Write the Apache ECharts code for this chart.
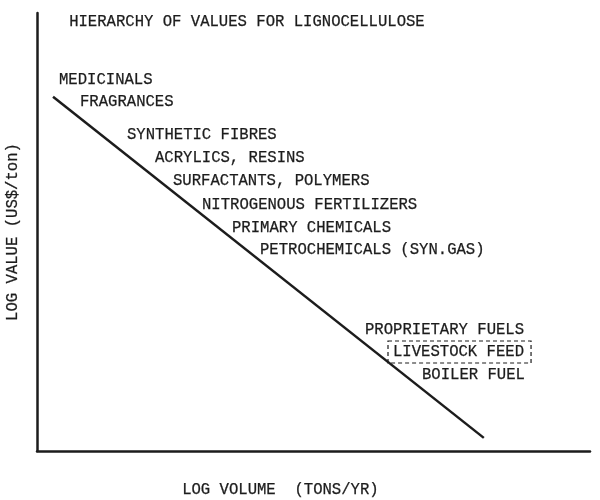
<!DOCTYPE html>
<html>
<head>
<meta charset="utf-8">
<script src="https://cdn.jsdelivr.net/npm/echarts@6/dist/echarts.min.js"></script>
<style>html,body{margin:0;padding:0;background:#fff}#c{width:600px;height:500px}</style>
</head>
<body>
<div id="c"></div>
<script>
// Data
var title = 'HIERARCHY OF VALUES FOR LIGNOCELLULOSE';
var xTitle = 'LOG VOLUME  (TONS/YR)';
var yTitle = 'LOG VALUE (US$/ton)';
var trendX = [2.9, 80.8];   // log volume (relative units)
var trendY = [80.9, 3.0];   // log value (relative units)
var categories = [
  'MEDICINALS', 'FRAGRANCES', 'SYNTHETIC FIBRES', 'ACRYLICS, RESINS',
  'SURFACTANTS, POLYMERS', 'NITROGENOUS FERTILIZERS', 'PRIMARY CHEMICALS',
  'PETROCHEMICALS (SYN.GAS)', 'PROPRIETARY FUELS', 'LIVESTOCK FEED', 'BOILER FUEL'
];
var boxed = ['LIVESTOCK FEED'];

// Layout (pixels) for annotation labels
var labelPos = [
  [59, 80], [80, 102], [127, 135], [155, 158], [173, 181], [202, 205],
  [232, 228], [260, 250], [365, 330], [393, 352], [422, 375]
];

var FONT = '"Liberation Mono", "DejaVu Sans Mono", monospace';
var FS = 15.6;
var INK = '#1c1c1c';
var SW = 0.25;

var chart = echarts.init(document.getElementById('c'), null, {renderer: 'canvas'});

function txtStyle(t, extra) {
  var s = {text: t, font: 'normal ' + FS + 'px ' + FONT, fill: INK, stroke: INK, lineWidth: SW};
  for (var k in extra) s[k] = extra[k];
  return s;
}

var graphics = [
  {type: 'text', left: 69, top: 14, style: txtStyle(title, {})},
  {type: 'text', left: 182, top: 482, style: txtStyle(xTitle, {})}
];
categories.forEach(function (c, i) {
  graphics.push({type: 'text', x: labelPos[i][0], y: labelPos[i][1],
    style: txtStyle(c, {verticalAlign: 'middle', align: 'left'})});
  if (boxed.indexOf(c) >= 0) {
    var w = c.length * FS * 0.6;
    graphics.push({type: 'rect', shape: {x: labelPos[i][0] - 5, y: labelPos[i][1] - 11, width: w + 12, height: 22},
      style: {fill: 'none', stroke: INK, lineWidth: 1.2, lineDash: [4, 3]}});
  }
});

chart.setOption({
  animation: false,
  backgroundColor: '#fff',
  grid: {left: 37, right: 10, top: 13, bottom: 49, containLabel: false, outerBoundsMode: 'none'},
  xAxis: {
    type: 'value', min: 0, max: 100,
    axisLine: {show: true, onZero: false, lineStyle: {color: INK, width: 2.5}},
    axisTick: {show: false}, axisLabel: {show: false}, splitLine: {show: false}
  },
  yAxis: {
    type: 'value', min: 0, max: 100,
    name: yTitle, nameLocation: 'middle', nameGap: 16, nameRotate: 90,
    nameTextStyle: {fontFamily: FONT, fontSize: FS, color: INK, textBorderColor: INK, textBorderWidth: SW},
    axisLine: {show: true, onZero: false, lineStyle: {color: INK, width: 2.5}},
    axisTick: {show: false}, axisLabel: {show: false}, splitLine: {show: false}
  },
  series: [{
    type: 'line',
    data: trendX.map(function (x, i) { return [x, trendY[i]]; }),
    symbol: 'none',
    lineStyle: {color: INK, width: 2.5}
  }],
  graphic: graphics
});
</script>
</body>
</html>
